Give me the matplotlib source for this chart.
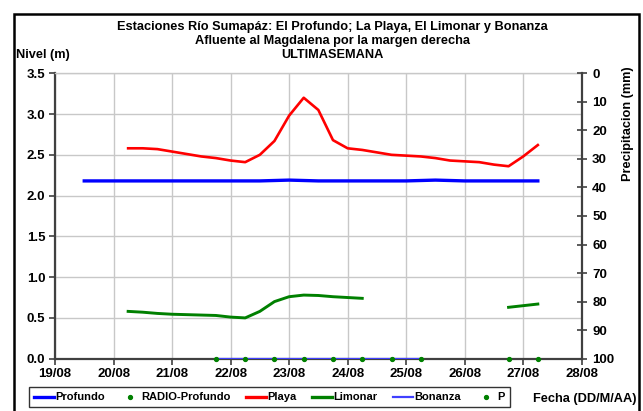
import numpy as np
import matplotlib
matplotlib.use("Agg")
import matplotlib.pyplot as plt
from matplotlib.patches import Rectangle
from matplotlib.lines import Line2D

plt.rcParams["font.family"] = ["Liberation Sans", "DejaVu Sans"]
plt.rcParams["font.weight"] = "bold"

# days of August (fractional = time of day)
profundo_days = [19.5, 20.0, 20.5, 21.0, 21.5, 22.0, 22.5, 23.0, 23.5, 24.0,
                 24.5, 25.0, 25.5, 26.0, 26.5, 27.0, 27.25]
profundo_vals = [2.18, 2.18, 2.18, 2.18, 2.18, 2.18, 2.18, 2.19, 2.18, 2.18,
                 2.18, 2.18, 2.19, 2.18, 2.18, 2.18, 2.18]

playa_days = [20.25, 20.5, 20.75, 21.0, 21.25, 21.5, 21.75, 22.0, 22.25, 22.5,
              22.75, 23.0, 23.25, 23.5, 23.75, 24.0, 24.25, 24.5, 24.75, 25.0,
              25.25, 25.5, 25.75, 26.0, 26.25, 26.5, 26.75, 27.0, 27.25]
playa_vals = [2.58, 2.58, 2.57, 2.54, 2.51, 2.48, 2.46, 2.43, 2.41, 2.50,
              2.67, 2.98, 3.20, 3.05, 2.68, 2.58, 2.56, 2.53, 2.50, 2.49,
              2.48, 2.46, 2.43, 2.42, 2.41, 2.38, 2.36, 2.48, 2.62]

limonar_days = [20.25, 20.5, 20.75, 21.0, 21.25, 21.5, 21.75, 22.0, 22.25, 22.5,
                22.75, 23.0, 23.25, 23.5, 23.75, 24.0, 24.25, 24.5,
                26.75, 27.0, 27.25]
limonar_vals = [0.58, 0.57, 0.555, 0.545, 0.54, 0.535, 0.53, 0.51, 0.50, 0.58,
                0.70, 0.76, 0.78, 0.775, 0.76, 0.75, 0.74, np.nan,
                0.63, 0.65, 0.67]

bonanza_days = [21.75, 22.25, 22.75, 23.25, 23.75, 24.25, 24.75, 25.25]
bonanza_vals = [0, 0, 0, 0, 0, 0, 0, 0]

p_days = [21.75, 22.25, 22.75, 23.25, 23.75, 24.25, 24.75, 25.25, 26.75, 27.25]
p_vals = [0, 0, 0, 0, 0, 0, 0, 0, 0, 0]

tick_days = [19, 20, 21, 22, 23, 24, 25, 26, 27, 28]
tick_labels = ["19/08", "20/08", "21/08", "22/08", "23/08", "24/08",
               "25/08", "26/08", "27/08", "28/08"]

fig = plt.figure(figsize=(6.43, 4.11), dpi=100)
ax = fig.add_axes([0.0855, 0.1273, 0.8192, 0.6944])

ax.plot(bonanza_days, bonanza_vals, color="#4040ff", lw=1.6, zorder=3)
ax.plot(profundo_days, profundo_vals, color="#0000ff", lw=2.4, zorder=4)
ax.plot(playa_days, playa_vals, color="#ff0000", lw=1.9, zorder=4)
ax.plot(limonar_days, limonar_vals, color="#008000", lw=2.1, zorder=4)
ax.plot(p_days, p_vals, ls="none", marker="o", ms=2.8, color="#008000",
        clip_on=False, zorder=5)

ax.set_xlim(19, 28)
ax.set_ylim(0, 3.5)
ax.set_xticks(tick_days)
ax.set_xticklabels(tick_labels)
ax.set_yticks(np.arange(0, 3.51, 0.5))
ax.set_yticklabels([f"{v:.1f}" for v in np.arange(0, 3.51, 0.5)])
ax.grid(True, color="#c8c8c8", lw=1.0)
ax.set_axisbelow(True)
ax.tick_params(axis="both", direction="out", length=4, width=1.2,
               color="#404040", labelsize=9.5, pad=3)
for s in ["left", "bottom"]:
    ax.spines[s].set_color("#404040")
    ax.spines[s].set_linewidth(1.6)
ax.spines["top"].set_color("#c8c8c8")
ax.spines["top"].set_linewidth(1.0)
ax.spines["right"].set_visible(False)
for lab in ax.get_xticklabels() + ax.get_yticklabels():
    lab.set_fontweight("bold")

ax2 = ax.twinx()
ax2.set_ylim(100, 0)
ax2.set_yticks(np.arange(0, 101, 10))
ax2.tick_params(axis="y", direction="inout", length=7, width=1.2,
                color="#404040", labelsize=9.5, pad=4)
for lab in ax2.get_yticklabels():
    lab.set_fontweight("bold")
ax2.spines["right"].set_color("#404040")
ax2.spines["right"].set_linewidth(1.6)
for s in ["left", "top", "bottom"]:
    ax2.spines[s].set_visible(False)

fig.text(0.517, 0.935, "Estaciones Río Sumapáz: El Profundo; La Playa, El Limonar y Bonanza",
         ha="center", va="center", fontsize=9.2, fontweight="bold")
fig.text(0.517, 0.900, "Afluente al Magdalena por la margen derecha",
         ha="center", va="center", fontsize=9.2, fontweight="bold")
fig.text(0.517, 0.866, "ULTIMASEMANA",
         ha="center", va="center", fontsize=9.2, fontweight="bold")
fig.text(0.025, 0.866, "Nivel (m)", ha="left", va="center", fontsize=9.2,
         fontweight="bold")
fig.text(0.977, 0.70, "Precipitacion (mm)", ha="center", va="center",
         rotation=90, fontsize=9.2, fontweight="bold")
fig.text(0.99, 0.028, "Fecha (DD/M/AA)", ha="right", va="center", fontsize=9.2,
         fontweight="bold")

handles = [
    Line2D([], [], color="#0000ff", lw=2.4),
    Line2D([], [], color="#008000", ls="none", marker="o", ms=2.8),
    Line2D([], [], color="#ff0000", lw=2.4),
    Line2D([], [], color="#008000", lw=2.4),
    Line2D([], [], color="#4040ff", lw=1.6),
    Line2D([], [], color="#008000", ls="none", marker="o", ms=2.8),
]
labels = ["Profundo", "RADIO-Profundo", "Playa", "Limonar", "Bonanza", "P"]
leg = fig.legend(handles, labels, loc="center left", bbox_to_anchor=(0.036, 0.033),
                 ncol=6, frameon=True, fancybox=False,
                 handlelength=1.8, handletextpad=0.1, columnspacing=1.4,
                 borderpad=0.45, prop={"weight": "bold", "size": 8})
leg.get_frame().set_edgecolor("black")
leg.get_frame().set_linewidth(1.0)

fig.patches.append(Rectangle((14 / 643, -0.1), 625 / 643, 1.1 - 14 / 411,
                             transform=fig.transFigure, fill=False,
                             edgecolor="black", lw=1.8))

fig.savefig("out.png", dpi=100)
